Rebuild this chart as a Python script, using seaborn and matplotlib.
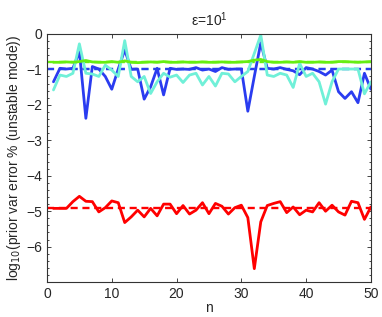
import numpy as np
import pandas as pd
import matplotlib
matplotlib.use("Agg")
import matplotlib.pyplot as plt
from matplotlib.ticker import AutoMinorLocator
import seaborn as sns

n = list(range(1, 51))

blue = [-1.35, -0.97, -0.99, -0.97, -0.50, -2.38, -0.92, -0.99, -1.20, -1.56,
        -0.99, -0.45, -1.00, -0.99, -1.84, -1.49, -0.97, -1.72, -0.97, -1.00,
        -0.99, -1.00, -0.95, -1.02, -0.99, -1.06, -0.95, -1.00, -0.99, -0.99,
        -2.18, -1.20, -0.25, -0.97, -0.99, -0.95, -1.00, -1.04, -1.15, -0.95,
        -0.99, -1.06, -1.16, -1.02, -1.63, -1.82, -1.63, -1.94, -1.11, -1.56]

cyan = [-1.58, -1.16, -1.20, -1.11, -0.28, -1.11, -1.13, -1.20, -0.88, -1.02,
        -1.20, -0.19, -1.20, -1.35, -1.20, -1.68, -1.35, -1.11, -1.22, -1.16,
        -1.37, -1.16, -1.11, -1.44, -1.20, -1.47, -1.11, -1.13, -1.35, -1.20,
        -1.06, -0.55, -0.03, -1.16, -1.20, -1.11, -1.16, -1.51, -0.83, -1.20,
        -1.11, -1.35, -1.98, -1.35, -0.99, -0.99, -0.99, -0.99, -1.69, -1.35]

green = [-0.80, -0.80, -0.79, -0.80, -0.78, -0.75, -0.79, -0.80, -0.80, -0.78,
         -0.80, -0.76, -0.80, -0.81, -0.80, -0.79, -0.80, -0.78, -0.80, -0.80,
         -0.79, -0.80, -0.80, -0.79, -0.80, -0.80, -0.79, -0.80, -0.80, -0.79,
         -0.78, -0.74, -0.72, -0.78, -0.80, -0.80, -0.79, -0.80, -0.78, -0.80,
         -0.80, -0.79, -0.80, -0.80, -0.78, -0.78, -0.79, -0.80, -0.79, -0.78]

red = [-4.92, -4.92, -4.92, -4.73, -4.58, -4.72, -4.73, -5.02, -4.90, -4.71,
       -4.76, -5.32, -5.16, -4.97, -5.16, -4.92, -5.13, -4.80, -4.80, -5.07,
       -4.84, -5.08, -4.97, -4.76, -5.07, -4.78, -4.86, -5.08, -4.90, -4.83,
       -5.18, -6.62, -5.30, -4.84, -4.78, -4.73, -5.04, -4.88, -5.10, -4.97,
       -5.02, -4.76, -5.00, -4.83, -5.02, -5.11, -4.72, -4.76, -5.23, -4.88]

mean_levels = {"blue": -1.00, "cyan": -1.00, "green": -0.80, "red": -4.90}

colors = {"green": "#66ee11", "cyan": "#70f0d8", "blue": "#2a3cf0", "red": "#ff0000"}

df = pd.DataFrame({"n": n * 4,
                   "val": blue + cyan + green + red,
                   "series": ["blue"] * 50 + ["cyan"] * 50 + ["green"] * 50 + ["red"] * 50})

sns.set_style("ticks")
plt.rcParams["font.family"] = ["Liberation Sans", "DejaVu Sans"]
plt.rcParams["xtick.direction"] = "in"
plt.rcParams["ytick.direction"] = "in"

fig = plt.figure(figsize=(3.82, 3.17), dpi=100)
ax = fig.add_axes([0.123, 0.110, 0.848, 0.783])

# dashed mean levels first, then the curves
for s in ["cyan", "blue", "green", "red"]:
    ax.axhline(mean_levels[s], color=colors[s], linestyle="--", linewidth=1.7,
               dashes=(3, 2))
for s in ["blue", "cyan", "green", "red"]:
    sns.lineplot(data=df[df.series == s], x="n", y="val", color=colors[s],
                 linewidth=2.0, ax=ax, legend=False)

ax.set_xlim(0, 50)
ax.set_ylim(-7, 0)
ax.set_xticks([0, 10, 20, 30, 40, 50])
ax.set_yticks([0, -1, -2, -3, -4, -5, -6])
ax.set_yticklabels(["0", "\u22121", "\u22122", "\u22123", "\u22124", "\u22125", "\u22126"])
ax.yaxis.set_minor_locator(AutoMinorLocator(5))
ax.tick_params(which="both", top=True, right=True, labelsize=10, length=3, width=0.6)
ax.tick_params(which="minor", length=1.5)
for sp in ax.spines.values():
    sp.set_linewidth(0.8)
    sp.set_color("#333333")

ax.set_xlabel("n", fontsize=10, labelpad=0)
ax.set_ylabel(r"log$_{10}$(prior var error % (unstable mode))", fontsize=10, labelpad=2)
ax.set_title(r"$\mathregular{\varepsilon}$=10$^{\mathregular{1}}$", fontsize=10, pad=6)

fig.savefig("out.png", dpi=100)
